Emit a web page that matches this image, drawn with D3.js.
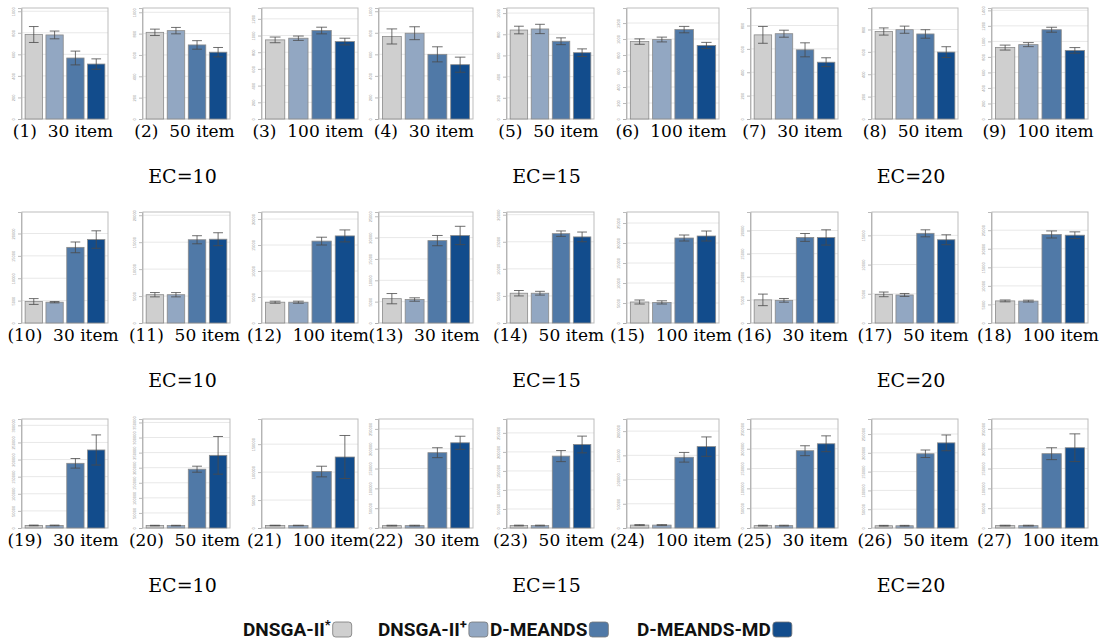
<!DOCTYPE html>
<html>
<head>
<meta charset="utf-8">
<script src="https://cdnjs.cloudflare.com/ajax/libs/d3/7.8.5/d3.min.js"></script>
<style>
  body { margin: 0; background: #fff; }
  svg { display: block; }
</style>
</head>
<body>
<svg width="1103" height="641"></svg>
<script>
// four methods, 27 small panels (3 rows x 9), values in tick units
var methods = ["DNSGA-II", "DNSGA-II", "D-MEANDS", "D-MEANDS-MD"];
var methodSup = ["*", "+", "", ""];
var items = [30, 50, 100];
var ecValues = [10, 15, 20];

var means = [
  [3.92, 3.90, 2.83, 2.55], [4.06, 4.14, 3.47, 3.13], [4.74, 4.84, 5.30, 4.64],
  [3.83, 3.98, 3.00, 2.52], [4.20, 4.25, 3.67, 3.13], [4.84, 4.97, 5.59, 4.60],
  [3.60, 3.65, 2.96, 2.43], [3.91, 3.99, 3.80, 2.99], [4.60, 4.79, 5.75, 4.42],
  [0.96, 0.93, 3.38, 3.73], [1.05, 1.05, 3.09, 3.11], [0.80, 0.80, 3.15, 3.35],
  [1.14, 1.10, 3.86, 4.10], [1.10, 1.10, 3.30, 3.18], [1.05, 1.03, 4.25, 4.35],
  [1.00, 0.98, 3.70, 3.70], [0.98, 0.96, 3.07, 2.85], [1.19, 1.18, 4.77, 4.73],
  [0.15, 0.15, 3.78, 4.56], [0.16, 0.16, 3.90, 4.82], [0.09, 0.09, 2.02, 2.54],
  [0.12, 0.12, 3.80, 4.30], [0.13, 0.13, 3.78, 4.39], [0.12, 0.12, 2.92, 3.36],
  [0.12, 0.12, 3.90, 4.25], [0.12, 0.12, 3.95, 4.53], [0.12, 0.12, 3.75, 4.05]
];
var errors = [
  [0.37, 0.18, 0.32, 0.24], [0.15, 0.15, 0.20, 0.22], [0.17, 0.13, 0.20, 0.20],
  [0.35, 0.30, 0.35, 0.35], [0.18, 0.22, 0.16, 0.18], [0.17, 0.15, 0.20, 0.19],
  [0.36, 0.15, 0.30, 0.19], [0.16, 0.16, 0.19, 0.24], [0.16, 0.13, 0.16, 0.18],
  [0.13, 0.03, 0.24, 0.39], [0.08, 0.08, 0.15, 0.24], [0.04, 0.04, 0.15, 0.23],
  [0.24, 0.08, 0.24, 0.43], [0.10, 0.07, 0.10, 0.18], [0.10, 0.08, 0.15, 0.25],
  [0.25, 0.08, 0.17, 0.33], [0.08, 0.05, 0.12, 0.17], [0.05, 0.05, 0.19, 0.18],
  [0.02, 0.02, 0.28, 0.88], [0.02, 0.02, 0.20, 1.25], [0.01, 0.01, 0.19, 0.77],
  [0.02, 0.02, 0.25, 0.33], [0.02, 0.02, 0.29, 0.44], [0.02, 0.02, 0.20, 0.40],
  [0.02, 0.02, 0.25, 0.40], [0.02, 0.02, 0.20, 0.42], [0.02, 0.02, 0.30, 0.70]
];
var yMax = [
  5.15, 5.20, 6.65, 5.15, 5.24, 6.94, 4.75, 4.96, 7.15,
  4.96, 4.12, 4.27, 5.20, 4.10, 5.55, 4.80, 3.80, 5.98,
  6.37, 7.23, 3.90, 5.50, 5.73, 4.50, 5.50, 5.80, 5.50
];
var rowUnit = [200, 5000, 50000];

document.addEventListener("DOMContentLoaded", function () {

  var svg = d3.select("svg");
  var colLeft = [22, 143, 262, 379, 507, 627, 751, 872, 992];
  var colRight = [108, 230, 358, 473, 594, 719, 838, 958, 1088];
  var rowTop = [8, 212, 419];
  var rowBottom = [119, 323, 528];
  var fills = ["#cfcfcf", "#92a7c2", "#5079a7", "#124c8c"];
  var serif = "'DejaVu Serif', serif";

  init();

  function init() {
    for (var i = 0; i < 27; i++) {
      drawPanel(i);
    }
    drawEcLabels();
    drawLegend();
  }

  function drawPanel(i) {
    var row = Math.floor(i / 9);
    var col = i % 9;
    var x0 = colLeft[col], x1 = colRight[col];
    var yTop = rowTop[row], yBot = rowBottom[row];

    var xScale = d3.scaleBand().domain(d3.range(4))
      .range([x0, x1]).paddingInner(0.17).paddingOuter(0.15);
    var yScale = d3.scaleLinear().domain([0, yMax[i]]).range([yBot, yTop]);

    var g = svg.append("g").attr("class", "panel");

    // light grid
    g.selectAll("line.grid")
      .data(d3.range(1, Math.floor(yMax[i]) + 1))
      .enter().append("line")
      .attr("class", "grid")
      .attr("x1", x0).attr("x2", x1)
      .attr("y1", function (d) { return yScale(d); })
      .attr("y2", function (d) { return yScale(d); })
      .attr("stroke", "#e8e8e8").attr("stroke-width", 1);

    // frame
    g.append("rect")
      .attr("x", x0).attr("y", yTop)
      .attr("width", x1 - x0).attr("height", yBot - yTop)
      .attr("fill", "none").attr("stroke", "#bdbdbd").attr("stroke-width", 1);

    // y axis
    var yAxis = d3.axisLeft(yScale)
      .tickValues(d3.range(0, Math.floor(yMax[i]) + 1))
      .tickSize(3)
      .tickFormat(function (d) { return d * rowUnit[row]; });
    var ax = g.append("g")
      .attr("transform", "translate(" + (x0 - 1) + ",0)")
      .call(yAxis);
    ax.select(".domain").attr("stroke", "#aaa").attr("stroke-width", 0.8);
    ax.selectAll(".tick line").attr("stroke", "#aaa").attr("stroke-width", 0.8);
    ax.selectAll(".tick text")
      .attr("x", null).attr("dy", null)
      .attr("transform", "translate(-6,0) rotate(-90)")
      .attr("text-anchor", "middle")
      .attr("fill", "#999")
      .style("font-size", "4px")
      .style("font-family", "sans-serif");

    // bars
    g.selectAll("rect.bar")
      .data(means[i])
      .enter().append("rect")
      .attr("class", "bar")
      .attr("x", function (d, k) { return xScale(k); })
      .attr("width", xScale.bandwidth())
      .attr("y", function (d) { return yScale(d); })
      .attr("height", function (d) { return yBot - yScale(d); })
      .attr("fill", function (d, k) { return fills[k]; })
      .attr("stroke", "#8a8a8a")
      .attr("stroke-width", 0.8);

    // error bars
    var cap = xScale.bandwidth() * 0.28;
    var eb = g.selectAll("g.err")
      .data(means[i])
      .enter().append("g")
      .attr("class", "err")
      .attr("stroke", "#4a4a4a")
      .attr("stroke-width", 0.8);
    eb.append("line")
      .attr("x1", function (d, k) { return xScale(k) + xScale.bandwidth() / 2; })
      .attr("x2", function (d, k) { return xScale(k) + xScale.bandwidth() / 2; })
      .attr("y1", function (d, k) { return yScale(d + errors[i][k]); })
      .attr("y2", function (d, k) { return yScale(d - errors[i][k]); });
    [1, -1].forEach(function (s) {
      eb.append("line")
        .attr("x1", function (d, k) { return xScale(k) + xScale.bandwidth() / 2 - cap; })
        .attr("x2", function (d, k) { return xScale(k) + xScale.bandwidth() / 2 + cap; })
        .attr("y1", function (d, k) { return yScale(d + s * errors[i][k]); })
        .attr("y2", function (d, k) { return yScale(d + s * errors[i][k]); });
    });

    // caption
    g.append("text")
      .attr("x", (x0 + x1) / 2 - 2)
      .attr("y", yBot + 18)
      .attr("text-anchor", "middle")
      .style("font-family", serif)
      .style("font-size", "17px")
      .style("white-space", "pre")
      .text("(" + (i + 1) + ")  " + items[col % 3] + " item");
  }

  function drawEcLabels() {
    for (var r = 0; r < 3; r++) {
      for (var c = 0; c < 3; c++) {
        var mid = 1 + c * 3;
        svg.append("text")
          .attr("x", (colLeft[mid] + colRight[mid]) / 2 - 4)
          .attr("y", rowBottom[r] + 64)
          .attr("text-anchor", "middle")
          .style("font-family", serif)
          .style("font-size", "19px")
          .text("EC=" + ecValues[c]);
      }
    }
  }

  function drawLegend() {
    var starts = [243, 378, 490, 637];
    var lg = svg.append("g").attr("class", "legend");
    methods.forEach(function (m, k) {
      var t = lg.append("text")
        .attr("x", starts[k]).attr("y", 636)
        .style("font-family", "Roboto, sans-serif")
        .style("font-weight", "700")
        .style("font-size", "19px")
        .attr("fill", "#111");
      t.append("tspan").text(m);
      if (methodSup[k]) {
        t.append("tspan").attr("dy", -7).style("font-size", "13px").text(methodSup[k]);
      }
      var w = t.node().getComputedTextLength();
      lg.append("rect")
        .attr("x", starts[k] + w + 2).attr("y", 622)
        .attr("width", 19).attr("height", 15)
        .attr("rx", 3)
        .attr("fill", fills[k])
        .attr("stroke", "#777").attr("stroke-width", 0.8);
    });
  }

});
</script>
</body>
</html>
